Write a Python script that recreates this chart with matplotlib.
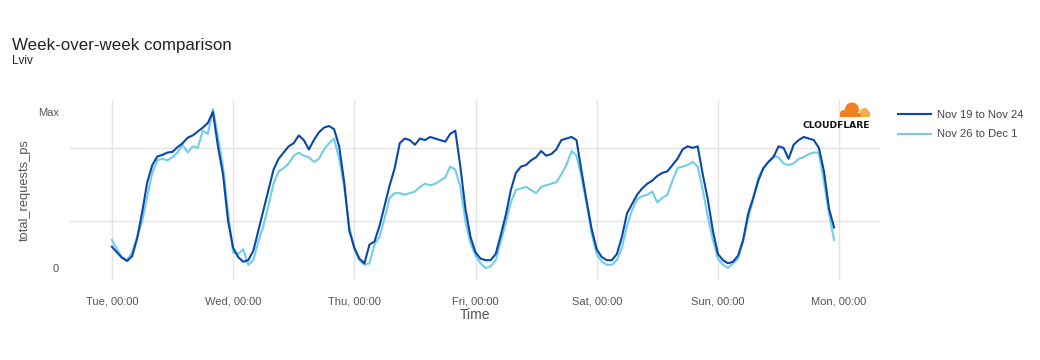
import matplotlib
matplotlib.use("Agg")
import matplotlib.pyplot as plt
from matplotlib.patches import Circle, Rectangle
import numpy as np

plt.rcParams['font.family'] = ['Liberation Sans', 'DejaVu Sans']

# ---------------- data (hourly, relative to max) ----------------
hours = list(range(144))
day_labels = ["Tue, 00:00", "Wed, 00:00", "Thu, 00:00", "Fri, 00:00",
              "Sat, 00:00", "Sun, 00:00", "Mon, 00:00"]
series_names = ["Nov 19 to Nov 24", "Nov 26 to Dec 1"]

prev_week = [
    # Tue
    0.137, 0.10, 0.065, 0.045, 0.075, 0.19, 0.36, 0.55, 0.66, 0.715, 0.725, 0.74,
    0.745, 0.775, 0.80, 0.835, 0.85, 0.875, 0.90, 0.93, 1.00, 0.78, 0.60, 0.30,
    # Wed
    0.13, 0.07, 0.04, 0.05, 0.11, 0.24, 0.37, 0.50, 0.63, 0.70, 0.74, 0.78,
    0.80, 0.85, 0.82, 0.76, 0.82, 0.87, 0.90, 0.91, 0.89, 0.78, 0.55, 0.24,
    # Thu
    0.13, 0.06, 0.03, 0.15, 0.17, 0.27, 0.40, 0.53, 0.64, 0.80, 0.83, 0.82,
    0.79, 0.83, 0.82, 0.84, 0.83, 0.82, 0.81, 0.86, 0.88, 0.65, 0.38, 0.20,
    # Fri
    0.10, 0.06, 0.05, 0.05, 0.09, 0.21, 0.34, 0.50, 0.61, 0.65, 0.66, 0.69,
    0.71, 0.75, 0.72, 0.73, 0.76, 0.82, 0.83, 0.84, 0.82, 0.62, 0.43, 0.25,
    # Sat
    0.12, 0.07, 0.05, 0.05, 0.09, 0.20, 0.35, 0.41, 0.47, 0.51, 0.54, 0.56,
    0.59, 0.61, 0.62, 0.66, 0.70, 0.76, 0.78, 0.77, 0.78, 0.60, 0.44, 0.24,
    # Sun
    0.09, 0.05, 0.03, 0.04, 0.08, 0.18, 0.35, 0.45, 0.56, 0.64, 0.68, 0.71,
    0.78, 0.77, 0.70, 0.79, 0.82, 0.84, 0.83, 0.82, 0.77, 0.62, 0.38, 0.26,
]

this_week = [
    # Tue
    0.18, 0.12, 0.07, 0.05, 0.10, 0.20, 0.30, 0.46, 0.61, 0.69, 0.70, 0.69,
    0.71, 0.74, 0.79, 0.74, 0.78, 0.77, 0.88, 0.86, 1.02, 0.84, 0.65, 0.36,
    # Wed
    0.10, 0.09, 0.12, 0.02, 0.05, 0.17, 0.27, 0.40, 0.54, 0.62, 0.64, 0.67,
    0.72, 0.74, 0.72, 0.71, 0.68, 0.70, 0.76, 0.80, 0.83, 0.70, 0.52, 0.27,
    # Thu
    0.12, 0.05, 0.02, 0.03, 0.15, 0.20, 0.32, 0.45, 0.48, 0.48, 0.47, 0.48,
    0.49, 0.52, 0.54, 0.53, 0.54, 0.56, 0.58, 0.65, 0.63, 0.52, 0.30, 0.16,
    # Fri
    0.08, 0.03, 0.00, 0.01, 0.05, 0.17, 0.29, 0.42, 0.50, 0.51, 0.52, 0.50,
    0.48, 0.52, 0.53, 0.54, 0.55, 0.60, 0.66, 0.75, 0.72, 0.58, 0.41, 0.22,
    # Sat
    0.09, 0.04, 0.02, 0.02, 0.05, 0.13, 0.27, 0.37, 0.44, 0.46, 0.47, 0.49,
    0.42, 0.45, 0.47, 0.56, 0.64, 0.65, 0.66, 0.68, 0.65, 0.50, 0.33, 0.18,
    # Sun
    0.06, 0.02, 0.00, 0.03, 0.06, 0.17, 0.32, 0.44, 0.58, 0.64, 0.68, 0.72,
    0.71, 0.67, 0.66, 0.67, 0.70, 0.71, 0.73, 0.74, 0.74, 0.55, 0.35, 0.18,
]

day_ticks = [0, 24, 48, 72, 96, 120, 144]
grid_levels = [0.30, 0.77]

# ---------------- figure ----------------
W, H = 1040, 360
fig = plt.figure(figsize=(W / 100, H / 100), dpi=100)
ax = fig.add_axes([70 / W, 1 - 280 / H, (880 - 70) / W, (280 - 100) / H])

c_dark = "#0A47A8"
c_light = "#72CDE8"

ax.plot(hours, prev_week, color=c_dark, lw=1.5, label=series_names[0], zorder=3)
ax.plot(hours, this_week, color=c_light, lw=1.5, label=series_names[1], zorder=2)

ax.set_xlim(-8.3, 152.1)
ax.set_ylim(-0.077, 1.077)

for s in ax.spines.values():
    s.set_visible(False)

ax.set_xticks(day_ticks)
ax.set_xticklabels(day_labels)
ax.set_yticks([0, 1])
ax.set_yticklabels(["0", "Max"])
ax.tick_params(axis='both', length=0, labelsize=8, labelcolor="#555555")
ax.tick_params(axis='x', pad=12)
ax.tick_params(axis='y', pad=8)

for d in day_ticks:
    ax.axvline(d, color="#e3e3e3", lw=1, zorder=0)
for g in grid_levels:
    ax.axhline(g, color="#e3e3e3", lw=1, zorder=0)

ax.set_xlabel("Time", fontsize=10, color="#555555", labelpad=1)
ax.set_ylabel("total_requests_ps", fontsize=9.3, color="#555555", labelpad=5)

fig.text(12 / W, 1 - 45.5 / H, "Week-over-week comparison", fontsize=12.2,
         color="#222222", va="center", ha="left")
fig.text(12 / W, 1 - 61.5 / H, "Lviv", fontsize=8.5, color="#222222",
         va="center", ha="left")

leg = fig.legend(loc="upper left", bbox_to_anchor=(898 / W, 1 - 110 / H),
                 frameon=False, fontsize=8, handlelength=3.0, handletextpad=0.5,
                 labelspacing=0.85, borderaxespad=0, borderpad=0)
for t in leg.get_texts():
    t.set_color("#444444")

# ---------------- Cloudflare logo ----------------
lax = fig.add_axes([836 / W, 1 - 120 / H, 36 / W, 22 / H])
lax.set_xlim(836, 872)
lax.set_ylim(120, 98)
lax.axis("off")
orange = "#F38020"
light_or = "#FAAE40"
lax.add_patch(Circle((864.5, 112.5), 4.5, color=light_or, lw=0))
lax.add_patch(Rectangle((860, 112.5), 10, 4.5, color=light_or, lw=0))
lax.add_patch(Circle((852, 109.5), 7.0, color=orange, lw=0))
lax.add_patch(Circle((843.5, 113.5), 3.5, color=orange, lw=0))
lax.add_patch(Rectangle((840, 113.5), 21, 3.5, color=orange, lw=0))
fig.text(836.5 / W, 1 - 125.5 / H, "CLOUDFLARE", fontsize=6.6, fontweight="bold",
         color="#111111", ha="center", va="center", family="DejaVu Sans")

fig.savefig("out.png", dpi=100, facecolor="white")
